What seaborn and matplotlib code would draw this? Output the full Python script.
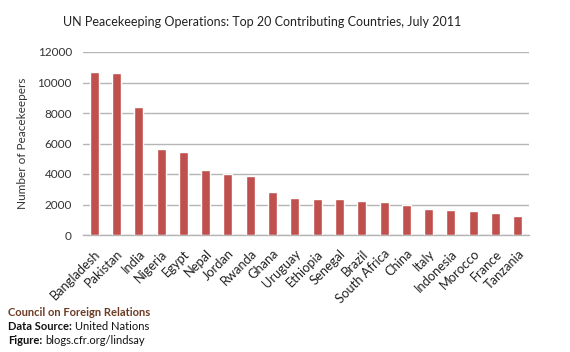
import matplotlib
matplotlib.use("Agg")
import matplotlib.pyplot as plt
import seaborn as sns
import pandas as pd

countries = ["Bangladesh", "Pakistan", "India", "Nigeria", "Egypt", "Nepal", "Jordan",
             "Rwanda", "Ghana", "Uruguay", "Ethiopia", "Senegal", "Brazil", "South Africa",
             "China", "Italy", "Indonesia", "Morocco", "France", "Tanzania"]
peacekeepers = [10656, 10612, 8403, 5624, 5470, 4267, 3982, 3873, 2845, 2429,
                2385, 2341, 2210, 2144, 1969, 1685, 1641, 1575, 1466, 1225]
yticks = [0, 2000, 4000, 6000, 8000, 10000, 12000]

df = pd.DataFrame({"country": countries, "value": peacekeepers})

sns.set_style("white")
plt.rcParams["font.family"] = ["Lato", "DejaVu Sans"]

fig = plt.figure(figsize=(5.70, 3.52), dpi=100)
ax = fig.add_axes([83/570, 1 - 235/352, (529-83)/570, (235-52)/352])

sns.barplot(data=df, x="country", y="value", color="#C0504D", width=0.4,
            saturation=1, ax=ax, zorder=3)

ax.set_ylim(0, 12000)
ax.set_yticks(yticks)
ax.set_yticklabels([str(v) for v in yticks], fontsize=8.5, color="#333333")
ax.yaxis.grid(True, color="#B5B5B5", linewidth=1, zorder=0)
ax.set_axisbelow(True)
ax.set_xlim(-0.5, len(countries) - 0.5)
for s in ["top", "right", "left"]:
    ax.spines[s].set_visible(False)
ax.spines["bottom"].set_color("#B5B5B5")
ax.spines["bottom"].set_linewidth(1)
ax.tick_params(axis="y", length=0, pad=8)
ax.set_xlabel("")
ax.set_ylabel("Number of Peacekeepers", fontsize=8.5, color="#333333", labelpad=7)
plt.setp(ax.get_xticklabels(), rotation=45, ha="right", rotation_mode="anchor",
         fontsize=9.3, color="#222222")
ax.tick_params(axis="x", length=0, pad=9)

fig.text(262/570, 1 - 22/352, "UN Peacekeeping Operations: Top 20 Contributing Countries, July 2011",
         ha="center", va="center", fontsize=9, color="#222222")

fig.text(8/570, 1 - 312/352, "Council on Foreign Relations", ha="left", va="center",
         fontsize=8, fontweight="bold", color="#6B3A22")
fig.text(8/570, 1 - 326/352, "Data Source:", ha="left", va="center",
         fontsize=8, fontweight="bold", color="#111111")
fig.text(75/570, 1 - 326/352, "United Nations", ha="left", va="center",
         fontsize=8, color="#111111")
fig.text(8/570, 1 - 341/352, "Figure:", ha="left", va="center",
         fontsize=8, fontweight="bold", color="#111111")
fig.text(45/570, 1 - 341/352, "blogs.cfr.org/lindsay", ha="left", va="center",
         fontsize=8, color="#111111")

fig.savefig("out.png", dpi=100)
